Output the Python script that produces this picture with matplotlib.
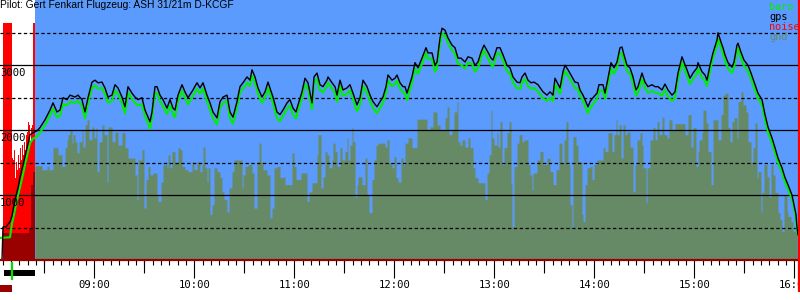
import matplotlib
matplotlib.use("Agg")
import matplotlib.pyplot as plt
from matplotlib import transforms

plt.rcParams["lines.scale_dashes"] = False

TITLE = "Pilot: Gert Fenkart Flugzeug: ASH 31/21m D-KCGF"

# all times are minutes after 08:00
T_START, T_END = 3.4, 483.4
HOUR_LABELS = ["09:00", "10:00", "11:00", "12:00", "13:00", "14:00", "15:00", "16:00"]
ALT_LABELS = [1000, 2000, 3000]
ALT_DASHED = [500, 1500, 2500, 3500]

ENGINE_ON, ENGINE_OFF = 5.8, 24.4
TAKEOFF = 10.6
LANDING = 482.8

# (time, altitude m)
gps = [(4.6, 0), (5.2, 510), (7.0, 510), (9.4, 590), (10.6, 680), (11.8, 850), (13.0, 990),
       (14.2, 1110), (15.4, 1270), (17.2, 1470), (19.6, 1730), (21.4, 1930), (23.2, 1960),
       (25.6, 1990), (27.4, 2040), (30.4, 2160), (33.4, 2310), (35.2, 2420), (37.6, 2280),
       (39.4, 2310), (41.2, 2500), (43.6, 2470), (45.4, 2540), (48.4, 2510), (50.2, 2540),
       (52.6, 2470), (54.4, 2280), (56.2, 2500), (58.6, 2740), (60.4, 2770), (62.2, 2730),
       (64.6, 2740), (66.4, 2650), (68.2, 2510), (70.6, 2540), (72.4, 2700), (74.2, 2650),
       (76.6, 2510), (78.4, 2360), (80.2, 2670), (82.6, 2570), (84.4, 2510), (86.2, 2470),
       (88.6, 2500), (90.4, 2310), (92.2, 2200), (93.4, 2130), (94.6, 2280), (96.4, 2670),
       (97.6, 2670), (99.4, 2540), (101.2, 2470), (103.6, 2340), (105.4, 2470), (107.2, 2340),
       (108.4, 2310), (110.2, 2540), (112.6, 2700), (114.4, 2590), (116.2, 2500), (119.2, 2620),
       (121.6, 2730), (123.4, 2650), (125.2, 2730), (127.6, 2540), (129.4, 2420), (131.2, 2280),
       (133.6, 2190), (135.4, 2440), (137.2, 2510), (139.6, 2540), (141.4, 2280), (143.2, 2200),
       (145.6, 2440), (147.4, 2670), (149.2, 2730), (151.6, 2820), (153.4, 2770), (154.6, 2930),
       (156.4, 2820), (158.2, 2650), (160.6, 2510), (162.4, 2590), (164.2, 2740), (165.4, 2650),
       (167.2, 2510), (169.6, 2280), (171.4, 2240), (173.2, 2310), (175.6, 2420), (177.4, 2470),
       (179.2, 2340), (181.0, 2280), (182.2, 2390), (184.6, 2590), (186.4, 2800), (188.2, 2730),
       (190.6, 2420), (191.8, 2820), (193.6, 2880), (195.4, 2700), (197.2, 2670), (199.6, 2770),
       (200.2, 2820), (202.6, 2730), (204.4, 2670), (205.6, 2540), (207.4, 2770), (209.2, 2620),
       (211.6, 2650), (213.4, 2700), (215.2, 2570), (217.6, 2390), (219.4, 2500), (221.2, 2770),
       (223.6, 2670), (225.4, 2540), (227.2, 2440), (229.6, 2360), (231.4, 2440), (233.2, 2510),
       (235.0, 2670), (236.2, 2850), (238.6, 2770), (240.4, 2800), (241.6, 2850), (243.4, 2730),
       (245.2, 2670), (246.4, 2670), (247.6, 2570), (248.2, 2620), (250.6, 2820), (252.4, 3040),
       (254.2, 2960), (256.6, 3110), (259.0, 3270), (260.2, 3190), (262.6, 3190), (264.4, 3000),
       (265.6, 3050), (267.4, 3420), (268.6, 3570), (270.4, 3540), (272.2, 3420), (274.6, 3310),
       (276.4, 3270), (278.2, 3110), (280.0, 3110), (282.4, 3050), (284.2, 3130), (286.6, 3110),
       (288.4, 3000), (290.2, 3050), (292.0, 3200), (293.8, 3310), (296.2, 3200), (298.0, 3110),
       (299.2, 3080), (301.6, 3270), (303.4, 3270), (305.2, 3160), (307.6, 3000), (309.4, 2960),
       (311.2, 2820), (313.6, 2740), (315.4, 2730), (316.6, 2820), (318.4, 2880), (320.2, 2770),
       (322.0, 2730), (323.8, 2740), (326.2, 2700), (329.2, 2590), (331.6, 2540), (333.4, 2590),
       (335.2, 2540), (336.4, 2800), (337.6, 2740), (339.4, 2650), (341.2, 2900), (342.4, 3000),
       (344.2, 2930), (346.6, 2820), (348.4, 2740), (350.2, 2730), (351.4, 2620), (353.2, 2540),
       (354.4, 2470), (356.2, 2360), (357.4, 2440), (359.2, 2500), (361.6, 2570), (362.8, 2700),
       (365.2, 2700), (366.4, 2570), (368.2, 2800), (370.0, 3040), (371.8, 2960), (373.6, 3050),
       (375.4, 3270), (376.6, 3280), (377.8, 3160), (379.6, 3000), (381.4, 2960), (383.2, 2820),
       (385.0, 2620), (386.2, 2670), (388.6, 2880), (390.4, 2740), (392.2, 2670), (394.6, 2700),
       (396.4, 2670), (398.2, 2670), (400.6, 2620), (402.4, 2710), (404.2, 2620), (406.6, 2540),
       (408.4, 2590), (410.2, 2880), (412.6, 3130), (413.8, 3050), (415.6, 2930), (417.4, 2800),
       (419.2, 2880), (421.6, 2960), (422.2, 3040), (424.6, 2900), (426.4, 2850), (427.6, 2770),
       (429.4, 3000), (431.2, 3190), (433.6, 3390), (434.2, 3500), (436.6, 3310), (437.2, 3270),
       (438.4, 3160), (440.2, 3040), (442.6, 2970), (443.8, 3050), (445.6, 3310), (446.2, 3340),
       (448.0, 3200), (449.8, 3080), (452.2, 3000), (454.0, 2880), (456.4, 2700), (458.2, 2570),
       (460.6, 2470), (462.4, 2240), (464.2, 2050), (466.6, 1880), (468.4, 1730), (470.2, 1570),
       (472.6, 1420), (474.4, 1270), (476.2, 1160), (478.6, 1000), (479.8, 850), (481.0, 700),
       (481.6, 500), (482.2, 390)]

baro = [(3.4, 340), (9.4, 350), (10.6, 560), (11.8, 700), (13.0, 850), (14.2, 990), (15.4, 1120),
        (17.2, 1320), (19.6, 1600), (21.4, 1800), (23.2, 1870), (25.6, 1900), (27.4, 1960),
        (30.4, 2080), (33.4, 2230), (35.2, 2330), (37.6, 2200), (39.4, 2220), (41.2, 2400),
        (43.6, 2380), (45.4, 2440), (48.4, 2420), (50.2, 2450), (52.6, 2380), (54.4, 2180),
        (56.2, 2410), (58.6, 2650), (60.4, 2690), (62.2, 2640), (64.6, 2650), (66.4, 2560),
        (68.2, 2420), (70.6, 2450), (72.4, 2610), (74.2, 2560), (76.6, 2410), (78.4, 2260),
        (80.2, 2580), (82.6, 2480), (84.4, 2420), (86.2, 2380), (88.6, 2400), (90.4, 2220),
        (92.2, 2110), (93.4, 2020), (94.6, 2190), (96.4, 2580), (97.6, 2570), (99.4, 2450),
        (101.2, 2370), (103.6, 2250), (105.4, 2380), (107.2, 2240), (108.4, 2200), (110.2, 2450),
        (112.6, 2610), (114.4, 2500), (116.2, 2400), (119.2, 2530), (121.6, 2640), (123.4, 2560),
        (125.2, 2640), (127.6, 2450), (129.4, 2320), (131.2, 2180), (133.6, 2090), (135.4, 2350),
        (137.2, 2420), (139.6, 2450), (141.4, 2180), (143.2, 2100), (145.6, 2350), (147.4, 2580),
        (149.2, 2640), (151.6, 2730), (153.4, 2680), (154.6, 2840), (156.4, 2730), (158.2, 2560),
        (160.6, 2420), (162.4, 2500), (164.2, 2650), (165.4, 2560), (167.2, 2420), (169.6, 2180),
        (171.4, 2140), (173.2, 2220), (175.6, 2330), (177.4, 2380), (179.2, 2240), (181.0, 2180),
        (182.2, 2300), (184.6, 2500), (186.4, 2710), (188.2, 2640), (190.6, 2320), (191.8, 2730),
        (193.6, 2790), (195.4, 2610), (197.2, 2580), (199.6, 2680), (200.2, 2730), (202.6, 2640),
        (204.4, 2570), (205.6, 2440), (207.4, 2680), (209.2, 2530), (211.6, 2560), (213.4, 2610),
        (215.2, 2480), (217.6, 2290), (219.4, 2400), (221.2, 2680), (223.6, 2580), (225.4, 2450),
        (227.2, 2340), (229.6, 2260), (231.4, 2340), (233.2, 2420), (235.0, 2580), (236.2, 2760),
        (238.6, 2680), (240.4, 2710), (241.6, 2760), (243.4, 2640), (245.2, 2580), (246.4, 2570),
        (247.6, 2460), (248.2, 2520), (250.6, 2730), (252.4, 2950), (254.2, 2870), (256.6, 3020),
        (259.0, 3190), (260.2, 3100), (262.6, 3100), (264.4, 2900), (265.6, 2960), (267.4, 3330),
        (268.6, 3490), (270.4, 3460), (272.2, 3340), (274.6, 3230), (276.4, 3180), (278.2, 3020),
        (280.0, 3010), (282.4, 2950), (284.2, 3040), (286.6, 3020), (288.4, 2900), (290.2, 2960),
        (292.0, 3110), (293.8, 3230), (296.2, 3110), (298.0, 3010), (299.2, 2980), (301.6, 3180),
        (303.4, 3180), (305.2, 3070), (307.6, 2910), (309.4, 2870), (311.2, 2730), (313.6, 2650),
        (315.4, 2630), (316.6, 2730), (318.4, 2790), (320.2, 2680), (322.0, 2640), (323.8, 2650),
        (326.2, 2600), (329.2, 2490), (331.6, 2450), (333.4, 2500), (335.2, 2450), (336.4, 2710),
        (337.6, 2650), (339.4, 2560), (341.2, 2810), (342.4, 2910), (344.2, 2840), (346.6, 2730),
        (348.4, 2650), (350.2, 2640), (351.4, 2530), (353.2, 2450), (354.4, 2370), (356.2, 2260),
        (357.4, 2340), (359.2, 2400), (361.6, 2480), (362.8, 2610), (365.2, 2610), (366.4, 2480),
        (368.2, 2710), (370.0, 2950), (371.8, 2870), (373.6, 2960), (375.4, 3180), (376.6, 3190),
        (377.8, 3070), (379.6, 2910), (381.4, 2870), (383.2, 2730), (385.0, 2530), (386.2, 2580),
        (388.6, 2790), (390.4, 2650), (392.2, 2580), (394.6, 2600), (396.4, 2580), (398.2, 2570),
        (400.6, 2530), (402.4, 2620), (404.2, 2520), (406.6, 2450), (408.4, 2500), (410.2, 2790),
        (412.6, 3040), (413.8, 2960), (415.6, 2840), (417.4, 2710), (419.2, 2790), (421.6, 2870),
        (422.2, 2950), (424.6, 2810), (426.4, 2760), (427.6, 2680), (429.4, 2910), (431.2, 3110),
        (433.6, 3310), (434.2, 3410), (436.6, 3230), (437.2, 3180), (438.4, 3070), (440.2, 2950),
        (442.6, 2880), (443.8, 2960), (445.6, 3230), (446.2, 3260), (448.0, 3110), (449.8, 2990),
        (452.2, 2910), (454.0, 2790), (456.4, 2620), (458.2, 2490), (460.6, 2390), (462.4, 2160),
        (464.2, 1970), (466.6, 1800), (468.4, 1650), (470.2, 1500), (472.6, 1350), (474.4, 1200),
        (476.2, 1090), (478.6, 940), (479.8, 800), (481.0, 640), (481.6, 440), (482.2, 390),
        (483.4, 390)]

# engine noise level (0..999), sampled per time step
noise = [(5.2, 999), (5.8, 999), (6.4, 999), (7.0, 999), (7.6, 999), (8.2, 999), (8.8, 999),
         (9.4, 999), (10.0, 999), (10.6, 431), (11.2, 422), (11.8, 464), (12.4, 346), (13.0, 414),
         (13.6, 380), (14.2, 443), (14.8, 389), (15.4, 473), (16.0, 422), (16.6, 485), (17.2, 443),
         (17.8, 498), (18.4, 464), (19.0, 527), (19.6, 540), (20.2, 582), (20.8, 570), (21.4, 498),
         (22.0, 557), (22.6, 570), (23.2, 999), (23.8, 999), (55.6, 13), (79.6, 5), (86.8, 8),
         (134.8, 5), (167.8, 5), (178.0, 22), (208.0, 64), (281.2, 5), (329.8, 99), (453.4, 39),
         (482.2, 999), (482.8, 999)]

# ground elevation below the glider while the engine runs / while gliding
gnd_engine = [(5.2, 420), (20.8, 500), (22.0, 1160), (23.2, 1360), (24.4, 1360)]
gnd = [(24.4, 1450), (28.6, 1390), (31.6, 1440), (32.8, 1390), (35.2, 1730), (38.2, 1620),
       (40.6, 1440), (42.4, 1730), (43.6, 1850), (44.2, 1930), (45.4, 2000), (46.6, 1800),
       (47.2, 1930), (48.4, 1820), (49.6, 1650), (50.8, 1820), (52.6, 2000), (53.2, 1740),
       (54.4, 2080), (55.6, 2160), (56.8, 1850), (58.6, 2050), (59.8, 1880), (61.0, 2040),
       (61.6, 1360), (62.8, 1820), (64.6, 2080), (65.8, 1930), (67.6, 1200), (68.2, 2050),
       (70.6, 1820), (72.4, 1970), (74.2, 1770), (76.6, 1960), (78.4, 1730), (80.2, 1570),
       (84.4, 1310), (85.6, 930), (86.2, 1540), (88.6, 1700), (89.8, 800), (91.0, 1240),
       (92.2, 1440), (93.4, 1310), (95.2, 1340), (97.6, 1000), (98.2, 900), (100.0, 1200),
       (101.2, 1470), (103.6, 1420), (104.2, 1620), (105.4, 1420), (106.6, 1670), (108.4, 1500),
       (110.2, 1730), (111.4, 1700), (112.6, 1440), (114.4, 1390), (116.2, 1360), (118.6, 1510),
       (119.8, 1390), (121.6, 1510), (123.4, 1360), (124.6, 1470), (125.2, 1740), (126.4, 1420),
       (127.6, 1200), (128.2, 1420), (129.4, 700), (130.6, 850), (131.8, 1420), (133.6, 1360),
       (135.4, 1270), (136.6, 1050), (137.8, 930), (139.6, 740), (140.8, 1110), (142.6, 1360),
       (143.8, 1540), (148.6, 1110), (149.2, 1310), (150.4, 1440), (152.2, 1470), (154.6, 1340),
       (155.8, 800), (157.6, 1510), (158.8, 1800), (160.0, 1510), (161.2, 1390), (163.6, 1310),
       (165.4, 650), (166.6, 800), (167.8, 1420), (169.6, 1440), (171.4, 1270), (173.2, 1280),
       (174.4, 1160), (178.6, 1650), (179.8, 1440), (181.0, 1240), (184.0, 1340), (187.6, 900),
       (188.8, 1050), (190.6, 1190), (193.6, 1620), (194.2, 1930), (196.0, 1110), (197.2, 1280),
       (198.4, 1670), (199.6, 1620), (200.8, 1420), (202.6, 1540), (203.2, 1800), (204.4, 1670),
       (205.6, 1440), (207.4, 1730), (208.6, 1540), (210.4, 1670), (211.6, 1880), (212.2, 1540),
       (213.4, 1770), (214.6, 2040), (215.2, 1820), (216.4, 970), (217.6, 1160), (218.2, 1280),
       (220.6, 1160), (222.4, 1570), (223.6, 1000), (224.8, 730), (226.6, 1240), (227.8, 1540),
       (229.0, 1770), (230.2, 1800), (234.4, 1740), (235.6, 1850), (236.8, 1500), (238.6, 1420),
       (239.8, 1590), (241.0, 1270), (242.2, 1200), (244.0, 1570), (245.2, 1470), (246.4, 1800),
       (248.2, 1880), (250.6, 1730), (253.6, 2170), (259.6, 2000), (261.4, 2050), (263.2, 2280),
       (265.6, 2080), (267.4, 2000), (270.4, 2190), (271.6, 2360), (272.8, 1930), (274.6, 2000),
       (275.8, 2280), (277.6, 2440), (278.2, 1820), (279.4, 1770), (280.6, 1850), (282.4, 1740),
       (284.2, 1880), (285.4, 1730), (287.2, 1420), (288.4, 1270), (290.2, 1190), (294.4, 930),
       (295.6, 1340), (296.8, 1620), (298.0, 2310), (298.6, 1880), (299.8, 1770), (301.6, 1960),
       (302.2, 1740), (303.4, 2130), (304.6, 1470), (305.8, 1730), (307.6, 1960), (308.8, 2130),
       (310.0, 1190), (310.6, 510), (311.8, 1440), (313.6, 1800), (314.8, 1930), (316.6, 1820),
       (317.8, 1850), (320.2, 1470), (321.4, 1310), (322.6, 1080), (323.2, 1340), (325.6, 1540),
       (327.4, 1670), (329.2, 1470), (331.6, 1570), (333.4, 1360), (335.2, 1160), (337.0, 1390),
       (338.8, 1800), (340.6, 1500), (341.8, 1850), (343.0, 2130), (344.2, 1470), (345.4, 850),
       (346.6, 470), (347.2, 1900), (349.0, 1770), (350.2, 1510), (352.6, 700), (353.2, 590),
       (354.4, 1160), (355.6, 1420), (357.4, 1440), (358.6, 1240), (359.8, 1470), (361.6, 1540),
       (365.2, 1730), (366.4, 1670), (368.2, 1960), (370.6, 1670), (371.8, 1930), (373.0, 2160),
       (373.6, 1930), (374.8, 2080), (376.0, 1570), (377.2, 2080), (378.4, 1930), (379.6, 1970),
       (381.4, 1740), (383.2, 1050), (384.4, 1470), (385.6, 1850), (387.4, 1960), (388.6, 1770),
       (389.2, 1420), (391.0, 880), (391.6, 1420), (393.4, 1850), (395.2, 2040), (396.4, 1850),
       (397.6, 2130), (398.8, 1930), (400.6, 2200), (401.8, 1930), (403.6, 1880), (404.8, 2160),
       (406.6, 2000), (408.4, 2100), (414.4, 1930), (416.2, 2240), (418.0, 1740), (419.2, 2040),
       (421.0, 1440), (422.2, 1670), (422.8, 1850), (424.6, 1970), (425.2, 2310), (427.0, 2110),
       (428.2, 1670), (430.0, 1160), (431.2, 2160), (434.2, 1850), (436.0, 2240), (437.2, 2540),
       (438.4, 2570), (440.2, 2040), (441.4, 1820), (442.6, 2130), (443.8, 2190), (445.6, 1880),
       (446.2, 2440), (448.0, 2590), (449.2, 2390), (451.0, 2280), (452.2, 1820), (454.0, 1510),
       (455.2, 1730), (456.4, 2110), (457.6, 1270), (458.2, 1360), (460.0, 740), (460.6, 1040),
       (461.8, 1470), (463.6, 1280), (464.8, 970), (466.0, 1470), (467.2, 1310), (468.4, 1040),
       (470.2, 730), (471.4, 620), (472.6, 440), (473.8, 1000), (475.6, 740), (476.2, 670),
       (478.0, 590), (479.2, 440), (481.6, 440)]

SKY = "#5b9bfd"
GND = "#668a66"
DARKRED = "#990000"
BARO = "#00ee00"
MONO = "DejaVu Sans Mono"

fig = plt.figure(figsize=(8, 3), dpi=100)
ax_n = fig.add_axes([0, 40 / 300, 1, 260 / 300])
ax = ax_n.twinx()
ax.set_zorder(ax_n.get_zorder() + 1)
ax.patch.set_visible(False)

# background + noise
ax_n.set_facecolor(SKY)
ax_n.axvspan(T_START, ENGINE_OFF, color="white", lw=0)
nt, nv = zip(*noise)
ax_n.bar(nt, nv, width=0.62, align="edge", color="#ff0000", lw=0)
ax_n.set_ylim(0, 1095)
ax_n.set_yticks([])

# terrain
et, eh = zip(*gnd_engine)
ax.fill_between(et, eh, step="post", color=DARKRED, lw=0, zorder=1)
gt, gh = zip(*gnd)
ax.fill_between(gt, gh, step="post", color=GND, lw=0, zorder=1)

# grid lines
for v in ALT_LABELS:
    ax.axhline(v, color="black", lw=0.9, zorder=2)
for v in ALT_DASHED:
    ax.axhline(v, color="black", lw=0.9, dashes=(2.4, 1.8), zorder=2)

bt, ba = zip(*baro)
ax.plot(bt, ba, color=BARO, lw=1.5, zorder=3)
pt, pa = zip(*gps)
ax.plot(pt, pa, color="black", lw=1.0, zorder=4)

ax.set_xlim(T_START, T_END)
ax.set_ylim(0, 4005)
ax.set_yticks([])
for a in (ax, ax_n):
    for s in a.spines.values():
        s.set_visible(False)

ax.axhline(0, color=DARKRED, lw=1.6, zorder=5, clip_on=False)

# time axis
hours = [60 * (i + 1) for i in range(len(HOUR_LABELS))]
ax_n.set_xticks(hours)
ax_n.set_xticklabels(HOUR_LABELS, family=MONO, fontsize=7.6)
ax_n.set_xticks(range(5, hours[-1] + 1, 5), minor=True)
ax_n.tick_params(axis="x", which="major", length=13, width=0.8, pad=1.5, direction="out")
ax_n.tick_params(axis="x", which="minor", length=3.8, width=0.8, direction="out")
ax_n.tick_params(axis="y", right=False, left=False)
ax.tick_params(axis="both", length=0, labelbottom=False)

xt = transforms.blended_transform_factory(ax.transData, ax.transAxes)
ax.vlines([h - 30 for h in hours], -0.05, 0, color="black", lw=0.8, transform=xt, clip_on=False)
ax.add_patch(plt.Rectangle((ENGINE_ON, -0.062), ENGINE_OFF - ENGINE_ON, 0.024, transform=xt,
                           color="black", clip_on=False, lw=0))
ax.vlines([TAKEOFF], -0.078, -0.006, color="#00dd00", lw=1.6, transform=xt, clip_on=False)
ax.add_patch(plt.Rectangle((T_START, -0.124), TAKEOFF - T_START, 0.027, transform=xt,
                           color=DARKRED, clip_on=False, lw=0))
ax.vlines([LANDING], -0.124, 1, color="#ff0000", lw=1.6, transform=xt, clip_on=False, zorder=6)

# altitude labels
yt = transforms.blended_transform_factory(ax.transAxes, ax.transData)
for v in ALT_LABELS:
    ax.text(0.0, v - 40, str(v), transform=yt, ha="left", va="top", family=MONO,
            fontsize=7.6, zorder=7)

fig.text(0.0, 1 - 0.5 / 300, TITLE, ha="left", va="top", family="Liberation Sans", fontsize=7.4)
for i, (name, c) in enumerate([("baro", BARO), ("gps", "black"), ("noise", "#ff0000"), ("gnd", GND)]):
    fig.text(769 / 800, 1 - (2 + 10 * i) / 300, name, color=c, ha="left", va="top",
             family=MONO, fontsize=7.4)

fig.savefig("out.png", dpi=100)
